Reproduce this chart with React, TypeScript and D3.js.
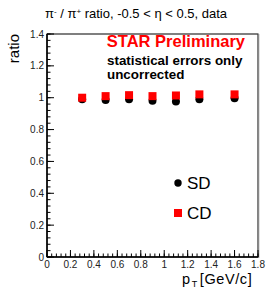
import React from "react";
import * as d3 from "d3";

const ptValues = [0.3, 0.5, 0.7, 0.9, 1.1, 1.3, 1.6];
const sdRatio = [0.99, 0.985, 0.99, 0.981, 0.977, 0.99, 0.996];
const cdRatio = [1.0, 1.01, 1.016, 1.01, 1.014, 1.021, 1.021];
const xTickLabels = ["0", "0.2", "0.4", "0.6", "0.8", "1", "1.2", "1.4", "1.6", "1.8"];
const yTickLabels = ["0", "0.2", "0.4", "0.6", "0.8", "1", "1.2", "1.4"];

const W = 267;
const H = 291;
const L = 47, R = 258, T = 34, B = 257;

export default function App() {
  const x = d3.scaleLinear().domain([0, 1.8]).range([L, R]);
  const y = d3.scaleLinear().domain([0, 1.4]).range([B, T]);
  const xMajor = d3.range(0, 1.8001, 0.2);
  const xMinor = d3.range(0, 1.8001, 0.04);
  const yMajor = d3.range(0, 1.4001, 0.2);
  const yMinor = d3.range(0, 1.4001, 0.04);
  const font = "'Liberation Sans', Arial, Helvetica, sans-serif";
  const sq = 8;
  return (
    <svg width={W} height={H} style={{ position: "absolute", left: 0, top: 0 }} fontFamily={font}>
      <rect x={0} y={0} width={W} height={H} fill="#fff" />
      <text x={136} y={18} textAnchor="middle" fontSize={13} fill="#000">
        π<tspan dy={-4} fontSize={8}>-</tspan><tspan dy={4}> / π</tspan><tspan dy={-4} fontSize={8}>+</tspan><tspan dy={4}> ratio, -0.5 &lt; η &lt; 0.5, data</tspan>
      </text>
      <rect x={L} y={T} width={R - L} height={B - T} fill="none" stroke="#000" strokeWidth={1} />
      <line x1={R + 0.5} y1={T} x2={R + 0.5} y2={B + 1} stroke="#888" strokeWidth={1.5} />
      <line x1={L} y1={T} x2={L} y2={B} stroke="#000" strokeWidth={1.5} />
      <line x1={L} y1={B} x2={R} y2={B} stroke="#000" strokeWidth={1.5} />
      {yMinor.map((v, i) => (
        <line key={"ym" + i} x1={L} x2={L + 3.5} y1={y(v)} y2={y(v)} stroke="#000" strokeWidth={1} />
      ))}
      {yMajor.map((v, i) => (
        <line key={"yM" + i} x1={L} x2={L + 7} y1={y(v)} y2={y(v)} stroke="#000" strokeWidth={1} />
      ))}
      {xMinor.map((v, i) => (
        <line key={"xm" + i} x1={x(v)} x2={x(v)} y1={B} y2={B - 3.5} stroke="#000" strokeWidth={1} />
      ))}
      {xMajor.map((v, i) => (
        <line key={"xM" + i} x1={x(v)} x2={x(v)} y1={B} y2={B - 7} stroke="#000" strokeWidth={1} />
      ))}
      {yMajor.map((v, i) => (
        <text key={"yl" + i} x={L - 3} y={y(v) + 3.5} textAnchor="end" fontSize={10} fill="#222">{yTickLabels[i]}</text>
      ))}
      {xMajor.map((v, i) => (
        <text key={"xl" + i} x={x(v)} y={B + 11} textAnchor="middle" fontSize={10} fill="#222">{xTickLabels[i]}</text>
      ))}
      <text transform={`translate(19,${T}) rotate(-90)`} textAnchor="end" fontSize={15} fill="#000">ratio</text>
      <text x={182} y={284} fontSize={14.5} fill="#000" letterSpacing={0.6}>
        p<tspan dy={3} fontSize={9} dx={1}>T</tspan><tspan dy={-3} dx={2}>[GeV/c]</tspan>
      </text>
      <text x={245} y={47} textAnchor="end" fontSize={16.5} fontWeight="bold" fill="#ff0000">STAR Preliminary</text>
      <text x={107} y={65} fontSize={13.4} fontWeight="bold" fill="#000">statistical errors only</text>
      <text x={107} y={79} fontSize={13.4} fontWeight="bold" fill="#000">uncorrected</text>
      {ptValues.map((p, i) => (
        <circle key={"sd" + i} cx={x(p)} cy={y(sdRatio[i])} r={4} fill="#000" />
      ))}
      {ptValues.map((p, i) => (
        <rect key={"cd" + i} x={x(p) - sq / 2} y={y(cdRatio[i]) - sq / 2} width={sq} height={sq} fill="#ff0000" />
      ))}
      <circle cx={178} cy={183} r={3.7} fill="#000" />
      <text x={187} y={188.5} fontSize={17} fill="#000">SD</text>
      <rect x={174} y={209} width={8} height={8} fill="#ff0000" />
      <text x={187} y={218.5} fontSize={17} fill="#000">CD</text>
    </svg>
  );
}
